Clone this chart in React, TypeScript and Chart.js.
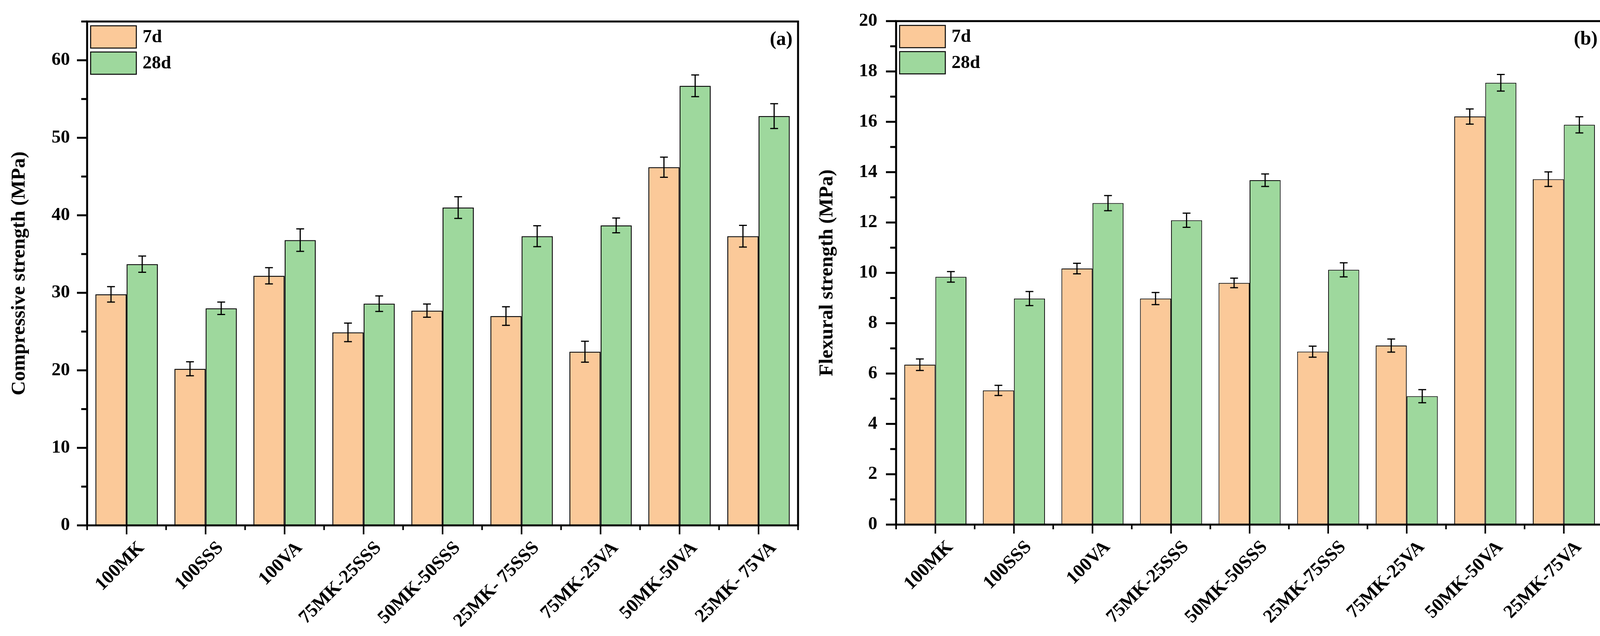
import { useEffect, useRef } from "react";
import { Chart, registerables } from "chart.js";

Chart.register(...registerables);

// categories (the left panel prints two of them with a space after the dash)
const compCategories = ["100MK", "100SSS", "100VA", "75MK-25SSS", "50MK-50SSS", "25MK- 75SSS", "75MK-25VA", "50MK-50VA", "25MK- 75VA"];
const flexCategories = ["100MK", "100SSS", "100VA", "75MK-25SSS", "50MK-50SSS", "25MK-75SSS", "75MK-25VA", "50MK-50VA", "25MK-75VA"];
const seriesNames = ["7d", "28d"];

// (a) compressive strength, MPa
const comp7d = [29.8, 20.2, 32.2, 24.9, 27.7, 27.0, 22.4, 46.2, 37.3];
const comp7dErr = [1.0, 0.9, 1.05, 1.2, 0.85, 1.2, 1.35, 1.3, 1.4];
const comp28d = [33.7, 28.0, 36.8, 28.6, 41.0, 37.3, 38.7, 56.7, 52.8];
const comp28dErr = [1.05, 0.8, 1.45, 1.0, 1.4, 1.35, 0.95, 1.4, 1.6];

// (b) flexural strength, MPa
const flex7d = [6.35, 5.33, 10.17, 8.98, 9.6, 6.87, 7.11, 16.21, 13.72];
const flex7dErr = [0.23, 0.2, 0.21, 0.24, 0.19, 0.22, 0.26, 0.3, 0.29];
const flex28d = [9.84, 8.98, 12.77, 12.09, 13.68, 10.12, 5.1, 17.55, 15.88];
const flex28dErr = [0.21, 0.28, 0.3, 0.28, 0.25, 0.28, 0.26, 0.33, 0.32];

const ORANGE = "#FBC999";
const GREEN = "#9ED89D";
const FONT = "'Liberation Serif', 'Times New Roman', serif";

// error bars, frame, tick marks, in-plot legend and panel letter
const panelDecor = {
  id: "panelDecor",
  afterDatasetsDraw(chart: any, _args: any, opts: any) {
    const ctx = chart.ctx;
    const y = chart.scales.y;
    ctx.save();
    ctx.strokeStyle = "#000";
    ctx.lineWidth = opts.errWidth;
    chart.data.datasets.forEach((ds: any, i: number) => {
      const errs = opts.errors[i];
      chart.getDatasetMeta(i).data.forEach((bar: any, j: number) => {
        const v = ds.data[j];
        const top = y.getPixelForValue(v + errs[j]);
        const bot = y.getPixelForValue(v - errs[j]);
        ctx.beginPath();
        ctx.moveTo(bar.x, top);
        ctx.lineTo(bar.x, bot);
        ctx.moveTo(bar.x - 10, top);
        ctx.lineTo(bar.x + 10, top);
        ctx.moveTo(bar.x - 10, bot);
        ctx.lineTo(bar.x + 10, bot);
        ctx.stroke();
      });
    });
    ctx.restore();
  },
  afterDraw(chart: any, _args: any, opts: any) {
    const ctx = chart.ctx;
    const { left, right, top, bottom } = chart.chartArea;
    const x = chart.scales.x;
    const y = chart.scales.y;
    ctx.save();
    ctx.strokeStyle = "#000";
    ctx.lineCap = "butt";

    // y tick marks
    ctx.lineWidth = 5;
    y.ticks.forEach((t: any) => {
      const py = y.getPixelForValue(t.value);
      const len = t.value % opts.yMajor === 0 ? 24 : 13;
      ctx.beginPath();
      ctx.moveTo(left - 2 - len, py);
      ctx.lineTo(left, py);
      ctx.stroke();
    });

    // x tick marks: long at category centres, short at boundaries
    ctx.lineWidth = 4;
    const n = chart.data.labels.length;
    for (let i = 0; i < n; i++) {
      const px = x.getPixelForValue(i);
      ctx.beginPath();
      ctx.moveTo(px, bottom);
      ctx.lineTo(px, bottom + 23);
      ctx.stroke();
    }
    for (let i = 0; i <= n; i++) {
      const px = x.getPixelForValue(i - 0.5);
      ctx.beginPath();
      ctx.moveTo(px, bottom);
      ctx.lineTo(px, bottom + 12);
      ctx.stroke();
    }

    // frame
    ctx.lineWidth = 5;
    ctx.strokeRect(left, top, right - left, bottom - top);

    // legend
    chart.data.datasets.forEach((ds: any, i: number) => {
      const bx = left + 9;
      const by = top + 11 + i * 67;
      ctx.fillStyle = ds.backgroundColor;
      ctx.fillRect(bx, by, 117, 57);
      ctx.lineWidth = 2.5;
      ctx.strokeRect(bx, by, 117, 57);
      ctx.fillStyle = "#000";
      ctx.font = `bold 47px ${FONT}`;
      ctx.textAlign = "left";
      ctx.textBaseline = "middle";
      ctx.fillText(ds.label, bx + 133, by + 30);
    });

    // panel letter
    ctx.fillStyle = "#000";
    ctx.font = `bold 50px ${FONT}`;
    ctx.textAlign = "right";
    ctx.textBaseline = "middle";
    ctx.fillText(opts.tag, right - 14, top + 47);
    ctx.restore();
  },
};

interface PanelProps {
  labels: string[];
  d7: number[];
  d28: number[];
  e7: number[];
  e28: number[];
  yMax: number;
  step: number;
  major: number;
  title: string;
  tag: string;
  canvasLeft: number;
  width: number;
  axisWidth: number;
  padTop: number;
  padRight: number;
  xAxisHeight: number;
  titlePad: number;
  tickPad: number;
  barBorder: number;
}

function Panel(p: PanelProps) {
  const chartRef = useRef<HTMLCanvasElement>(null);
  const chartInstance = useRef<Chart | null>(null);

  useEffect(() => {
    if (!chartRef.current) return;
    if (chartInstance.current) chartInstance.current.destroy();
    const ctx = chartRef.current.getContext("2d");
    if (!ctx) return;

    chartInstance.current = new Chart(ctx, {
      type: "bar",
      data: {
        labels: p.labels,
        datasets: [
          { label: seriesNames[0], data: p.d7, backgroundColor: ORANGE, borderColor: "#000", borderWidth: p.barBorder },
          { label: seriesNames[1], data: p.d28, backgroundColor: GREEN, borderColor: "#000", borderWidth: p.barBorder },
        ],
      },
      plugins: [panelDecor],
      options: {
        animation: false,
        responsive: false,
        devicePixelRatio: 1,
        layout: { padding: { top: p.padTop, right: p.padRight, left: 0, bottom: 0 } },
        datasets: { bar: { categoryPercentage: 0.79, barPercentage: 1.0 } },
        plugins: {
          legend: { display: false },
          tooltip: { enabled: false },
          panelDecor: { errors: [p.e7, p.e28], errWidth: 3, yMajor: p.major, tag: p.tag },
        } as any,
        scales: {
          x: {
            offset: true,
            grid: { display: false, drawTicks: false },
            border: { display: false },
            ticks: {
              color: "#000",
              autoSkip: false,
              maxRotation: 45,
              minRotation: 45,
              padding: 30,
              labelOffset: 38,
              font: { family: FONT, size: 48, weight: "bold" },
            },
            afterFit: (s: any) => {
              s.height = p.xAxisHeight;
              s.paddingLeft = 0;
              s.paddingRight = 0;
            },
          },
          y: {
            min: 0,
            max: p.yMax,
            grid: { display: false, drawTicks: false },
            border: { display: false },
            ticks: {
              color: "#000",
              stepSize: p.step,
              autoSkip: false,
              padding: p.tickPad,
              font: { family: FONT, size: 47, weight: "bold" },
              callback: (v: any) => (Number(v) % p.major === 0 ? String(v) : ""),
            },
            title: {
              display: true,
              text: p.title,
              color: "#000",
              padding: { top: p.titlePad, bottom: 0 },
              font: { family: FONT, size: 51, weight: "bold" },
            },
            afterFit: (s: any) => {
              s.width = p.axisWidth;
              s.paddingTop = 0;
              s.paddingBottom = 0;
            },
          },
        },
      } as any,
    });

    return () => {
      if (chartInstance.current) {
        chartInstance.current.destroy();
        chartInstance.current = null;
      }
    };
  }, []);

  return (
    <canvas
      ref={chartRef}
      width={p.width}
      height={1627}
      style={{ position: "absolute", left: p.canvasLeft, top: 0, width: p.width, height: 1627 }}
    />
  );
}

export default function App() {
  return (
    <div style={{ position: "absolute", left: 0, top: 0, width: 4147, height: 1627, background: "#fff" }}>
      <Panel
        labels={compCategories} d7={comp7d} d28={comp28d} e7={comp7dErr} e28={comp28dErr}
        yMax={65} step={5} major={10} title="Compressive strength (MPa)" tag="(a)"
        canvasLeft={0} width={2070} axisWidth={223} padTop={55} padRight={27} xAxisHeight={283}
        titlePad={19} tickPad={44} barBorder={2.5}
      />
      <Panel
        labels={flexCategories} d7={flex7d} d28={flex28d} e7={flex7dErr} e28={flex28dErr}
        yMax={20} step={1} major={2} title="Flexural strength (MPa)" tag="(b)"
        canvasLeft={2070} width={2077} axisWidth={224} padTop={54} padRight={43} xAxisHeight={285}
        titlePad={17} tickPad={48} barBorder={2}
      />
    </div>
  );
}
